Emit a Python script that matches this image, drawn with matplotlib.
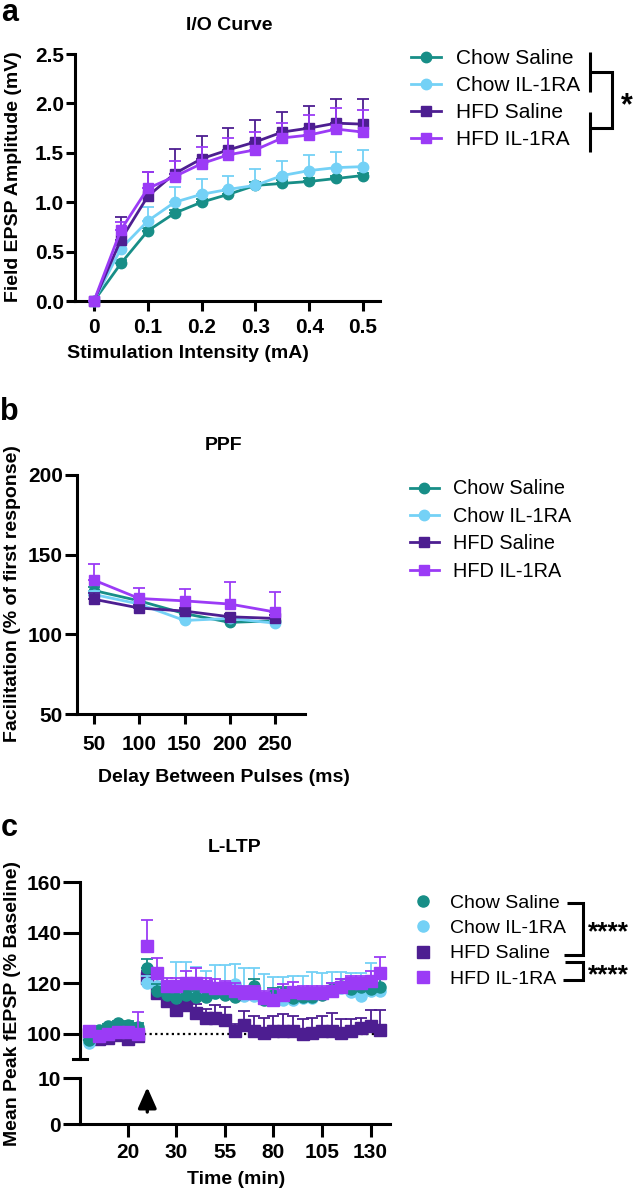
import numpy as np
import matplotlib
matplotlib.use('Agg')
import matplotlib.pyplot as plt
from matplotlib.lines import Line2D

plt.rcParams['font.family'] = ['Liberation Sans', 'DejaVu Sans']
plt.rcParams['font.weight'] = 'bold'
plt.rcParams['font.size'] = 14

# ---- data ----
groups = ['Chow Saline', 'Chow IL-1RA', 'HFD Saline', 'HFD IL-1RA']
colors = ['#178E87', '#74D1F6', '#4D1E91', '#9B3BF6']
markers = ['o', 'o', 's', 's']

# a: I/O curve
io_x = [0, 0.05, 0.1, 0.15, 0.2, 0.25, 0.3, 0.35, 0.4, 0.45, 0.5]
io_chow_sal = [0, 0.38, 0.71, 0.89, 1.00, 1.08, 1.17, 1.19, 1.21, 1.24, 1.27]
io_chow_sal_err = [0, 0.03, 0.03, 0.03, 0.03, 0.03, 0.03, 0.03, 0.03, 0.03, 0.03]
io_chow_il = [0, 0.53, 0.81, 1.00, 1.08, 1.13, 1.17, 1.27, 1.32, 1.35, 1.36]
io_chow_il_err = [0, 0.05, 0.14, 0.15, 0.15, 0.14, 0.17, 0.15, 0.16, 0.155, 0.17]
io_hfd_sal = [0, 0.62, 1.06, 1.29, 1.44, 1.53, 1.61, 1.71, 1.75, 1.80, 1.79]
io_hfd_sal_err = [0, 0.23, 0.25, 0.25, 0.23, 0.22, 0.22, 0.20, 0.22, 0.24, 0.25]
io_hfd_il = [0, 0.72, 1.14, 1.26, 1.39, 1.48, 1.53, 1.65, 1.68, 1.74, 1.71]
io_hfd_il_err = [0, 0.08, 0.17, 0.16, 0.17, 0.17, 0.18, 0.15, 0.20, 0.21, 0.22]

# b: PPF
ppf_x = [50, 100, 150, 200, 250]
ppf_chow_sal = [127.5, 121, 113, 107.5, 108.5]
ppf_chow_sal_err = [2.5, 2, 2, 2, 2]
ppf_chow_il = [125, 119, 108.7, 110, 107]
ppf_chow_il_err = [2, 2, 2, 2, 2]
ppf_hfd_sal = [122, 116.5, 114.6, 111, 110]
ppf_hfd_sal_err = [4, 2, 2, 2, 2]
ppf_hfd_il = [134, 122.5, 121, 119, 114]
ppf_hfd_il_err = [10, 6.5, 7.5, 14, 12.5]

# c: L-LTP (6 baseline points, then 25 post-HFS points)
ltp_chow_sal = [97.6, 101.3, 102.9, 104.2, 103.5, 102.6,
                126, 117, 115.5, 114, 115.5, 114.5, 114.5, 116, 115.5, 114.5, 116, 119, 113.5,
                115.5, 116, 114, 114.5, 114.5, 115.5, 117.5, 119, 117.5, 118.5, 117.5, 118.5]
ltp_chow_sal_err = [1, 1, 1, 1, 1.5, 1.5,
                    3.5, 2.5, 2.5, 2.5, 2.5, 2.5, 2.5, 2.5, 2.5, 2.5, 2.5, 2.5, 2.5,
                    2.5, 2.5, 2.5, 2.5, 2.5, 2.5, 2.5, 2.5, 2.5, 3, 3, 3]
ltp_chow_il = [96.3, 100.5, 101.5, 102.5, 102, 100.5,
               120, 119, 117, 117, 118, 117, 116, 116, 116, 119.5, 115, 115, 114,
               114, 113.5, 113.5, 114, 114, 116, 117, 118, 116.5, 115, 117, 117]
ltp_chow_il_err = [1.5, 1.5, 1.5, 1.5, 2, 2,
                   3, 3, 4, 11.5, 10.5, 9.5, 9, 11, 11, 8, 11, 11, 9.5,
                   8.5, 9, 9.5, 9, 10.5, 8, 7.5, 6.5, 7.5, 9, 11, 5]
ltp_hfd_sal = [100, 98, 98.5, 99.5, 98, 99,
               122, 116, 112.8, 109.5, 111.4, 108.2, 106.3, 106.3, 105.5, 100.9, 103.5, 101, 100.4,
               101, 101.2, 101.2, 100, 100.4, 101, 101.2, 100.4, 101, 102.3, 103, 101.3]
ltp_hfd_sal_err = [1, 1, 1, 1, 1, 1,
                   3, 3, 4, 4, 4, 3.5, 3.5, 5, 5, 3, 5.5, 6, 6,
                   6, 6.5, 6, 6, 6, 6, 7, 5.5, 5, 4, 6.5, 8]
ltp_hfd_il = [101, 99, 100, 100.5, 100.5, 100,
              134.5, 124, 119, 119, 120, 120, 119, 118, 118, 117, 116, 116, 114,
              113.5, 115.5, 116.5, 116, 116, 116, 117, 118.5, 120, 120, 121, 124]
ltp_hfd_il_err = [1.5, 1.5, 1.5, 2, 2, 8.5,
                  10.5, 6, 3, 3, 5, 6, 3, 3.5, 3, 3, 3, 3, 3,
                  4, 4, 4, 3, 3, 3, 3, 3, 3, 3, 4, 6.5]
ltp_n_baseline = 6
ltp_tick_idx = [4, 9, 14, 19, 24, 29]
ltp_tick_labels = ['20', '30', '55', '80', '105', '130']

# ---- layout helpers (pixel positions on a 633x1191 canvas) ----
W, H = 633, 1191


def rect(l, t, r, b):
    return [l / W, 1 - b / H, (r - l) / W, (b - t) / H]


def fx(x):
    return x / W


def fy(y):
    return 1 - y / H


def style(ax, ylen, xlen, xpad=4):
    for s in ['top', 'right']:
        ax.spines[s].set_visible(False)
    for s in ['left', 'bottom']:
        ax.spines[s].set_linewidth(2.2)
    ax.tick_params(axis='y', width=2.2, length=ylen, labelsize=15, pad=1.5)
    ax.tick_params(axis='x', width=2.2, length=xlen, labelsize=15, pad=xpad)


def fig_line(fig, pts, lw=2.2):
    xs = [fx(p[0]) for p in pts]
    ys = [fy(p[1]) for p in pts]
    fig.add_artist(Line2D(xs, ys, transform=fig.transFigure, color='black', lw=lw,
                          solid_joinstyle='miter', solid_capstyle='butt'))


def leg_font(size):
    return {'family': ['Liberation Sans', 'DejaVu Sans'], 'weight': 'normal', 'size': size}


fig = plt.figure(figsize=(W / 100, H / 100), dpi=100)

# ---------------- a: I/O curve ----------------
ax = fig.add_axes(rect(75, 54, 380, 301))
io_series = [(io_chow_sal, io_chow_sal_err), (io_chow_il, io_chow_il_err),
             (io_hfd_sal, io_hfd_sal_err), (io_hfd_il, io_hfd_il_err)]
for k, (vals, err) in enumerate(io_series):
    ax.errorbar(io_x, vals, yerr=[np.zeros(len(err)), err], fmt='none', ecolor=colors[k],
                elinewidth=1.3, capsize=4, capthick=1.3, zorder=2 + k, clip_on=False)
    ax.plot(io_x, vals, color=colors[k], marker=markers[k], ms=7.5, lw=2, zorder=2 + k,
            clip_on=False)
ax.set_xlim(-0.0353, 0.5316)
ax.set_ylim(0, 2.5)
ax.set_xticks(io_x[::2])
ax.set_xticklabels(['0', '0.1', '0.2', '0.3', '0.4', '0.5'])
ax.set_yticks([0, 0.5, 1.0, 1.5, 2.0, 2.5])
ax.set_yticklabels(['0.0', '0.5', '1.0', '1.5', '2.0', '2.5'])
style(ax, 6.5, 7, xpad=5)
fig.text(fx(14), fy(177), 'Field EPSP Amplitude (mV)', rotation=90, ha='center', va='center')
fig.text(fx(188), fy(353), 'Stimulation Intensity (mA)', ha='center', va='center')
fig.text(fx(229), fy(25), 'I/O Curve', ha='center', va='center')
fig.text(fx(10), fy(13), 'a', ha='center', va='center', fontsize=22)

handles = [Line2D([], [], color=colors[k], marker=markers[k], ms=7.5, lw=2) for k in range(4)]
ax.legend(handles, groups, loc='center left', bbox_to_anchor=(fx(411), fy(99)),
          bbox_transform=fig.transFigure, frameon=False, prop=leg_font(15), handlelength=1.45,
          handletextpad=0.7, labelspacing=0.39, borderpad=0, borderaxespad=0)
fig_line(fig, [(590, 52), (590, 92)])
fig_line(fig, [(590, 72), (612, 72), (612, 128), (590, 128)])
fig_line(fig, [(590, 112), (590, 152)])
fig.text(fx(627), fy(106), '*', ha='center', va='center', fontsize=22)

# ---------------- b: PPF ----------------
ax = fig.add_axes(rect(77, 475, 305, 714))
ppf_series = [(ppf_chow_sal, ppf_chow_sal_err), (ppf_chow_il, ppf_chow_il_err),
              (ppf_hfd_sal, ppf_hfd_sal_err), (ppf_hfd_il, ppf_hfd_il_err)]
for k, (vals, err) in enumerate(ppf_series):
    ax.errorbar(ppf_x, vals, yerr=[np.zeros(len(err)), err], fmt='none', ecolor=colors[k],
                elinewidth=1.3, capsize=4, capthick=1.3, zorder=2 + k)
    ax.plot(ppf_x, vals, color=colors[k], marker=markers[k], ms=7.5, lw=2, zorder=2 + k)
ax.set_xlim(31.2, 283)
ax.set_ylim(50, 200)
ax.set_xticks(ppf_x)
ax.set_yticks([50, 100, 150, 200])
style(ax, 8.5, 7, xpad=8)
fig.text(fx(13), fy(594), 'Facilitation (% of first response)', rotation=90,
         ha='center', va='center')
fig.text(fx(224), fy(777), 'Delay Between Pulses (ms)', ha='center', va='center')
fig.text(fx(224), fy(445), 'PPF', ha='center', va='center')
fig.text(fx(9), fy(412), 'b', ha='center', va='center', fontsize=22)
ax.legend(handles, groups, loc='center left', bbox_to_anchor=(fx(410), fy(530)),
          bbox_transform=fig.transFigure, frameon=False, prop=leg_font(14.3), handlelength=1.45,
          handletextpad=0.7, labelspacing=0.42, borderpad=0, borderaxespad=0)

# ---------------- c: L-LTP (broken y axis) ----------------
ltp_x = np.arange(len(ltp_chow_sal))
ax_t = fig.add_axes(rect(80, 882, 390, 1059))
ax_b = fig.add_axes(rect(80, 1078, 390, 1124))
ltp_series = [(ltp_hfd_sal, ltp_hfd_sal_err, 2), (ltp_chow_il, ltp_chow_il_err, 1),
              (ltp_chow_sal, ltp_chow_sal_err, 0), (ltp_hfd_il, ltp_hfd_il_err, 3)]
for z, (vals, err, k) in enumerate(ltp_series):
    ax_t.errorbar(ltp_x, vals, yerr=[np.zeros(len(err)), err], fmt='none', ecolor=colors[k],
                  elinewidth=1.3, capsize=4, capthick=1.3, zorder=2 + z)
    ax_t.plot(ltp_x, vals, ls='none', color=colors[k], marker=markers[k], ms=8,
              zorder=2 + z, clip_on=False)
ax_t.hlines(100, ltp_x[ltp_n_baseline] - 0.35, ltp_x[-1] + 0.2, colors='black',
            linestyles=(0, (1, 1.5)), lw=1.6, zorder=1)
for a in (ax_t, ax_b):
    a.set_xlim(-0.93, 31.0)
ax_t.set_ylim(90, 160)
ax_t.set_yticks([100, 120, 140, 160])
ax_t.set_xticks([])
style(ax_t, 12, 9.5)
ax_t.spines['bottom'].set_visible(False)
ax_t.plot([-0.023, 0.023], [0, 0], transform=ax_t.transAxes, color='black', lw=2.2,
          clip_on=False)
ax_b.set_ylim(0, 10)
ax_b.set_yticks([0, 10])
ax_b.set_xticks(ltp_tick_idx)
ax_b.set_xticklabels(ltp_tick_labels)
style(ax_b, 12, 9.5, xpad=4)
ax_b.annotate('', xy=(ltp_x[ltp_n_baseline], 8.6), xytext=(ltp_x[ltp_n_baseline], 2),
              arrowprops=dict(arrowstyle='-|>,head_width=0.4,head_length=0.9',
                              color='black', lw=2.4))
fig.text(fx(13), fy(1003), 'Mean Peak fEPSP (% Baseline)', rotation=90,
         ha='center', va='center')
fig.text(fx(236), fy(1180), 'Time (min)', ha='center', va='center')
fig.text(fx(235), fy(847), 'L-LTP', ha='center', va='center')
fig.text(fx(9), fy(828), 'c', ha='center', va='center', fontsize=22)

handles_c = [Line2D([], [], ls='none', color=colors[k], marker=markers[k], ms=8) for k in range(4)]
ax_t.legend(handles_c, groups, loc='center left', bbox_to_anchor=(fx(413), fy(941)),
            bbox_transform=fig.transFigure, frameon=False, prop=leg_font(14), handlelength=1.0,
            handletextpad=0.9, labelspacing=0.4, borderpad=0, borderaxespad=0)
fig_line(fig, [(567, 903), (583, 903), (583, 955), (564, 955)])
fig_line(fig, [(565, 962), (583, 962), (583, 980), (563, 980)])
fig.text(fx(588), fy(932), '****', ha='left', va='center', fontsize=19)
fig.text(fx(588), fy(975), '****', ha='left', va='center', fontsize=19)

fig.savefig('out.png', dpi=100)
